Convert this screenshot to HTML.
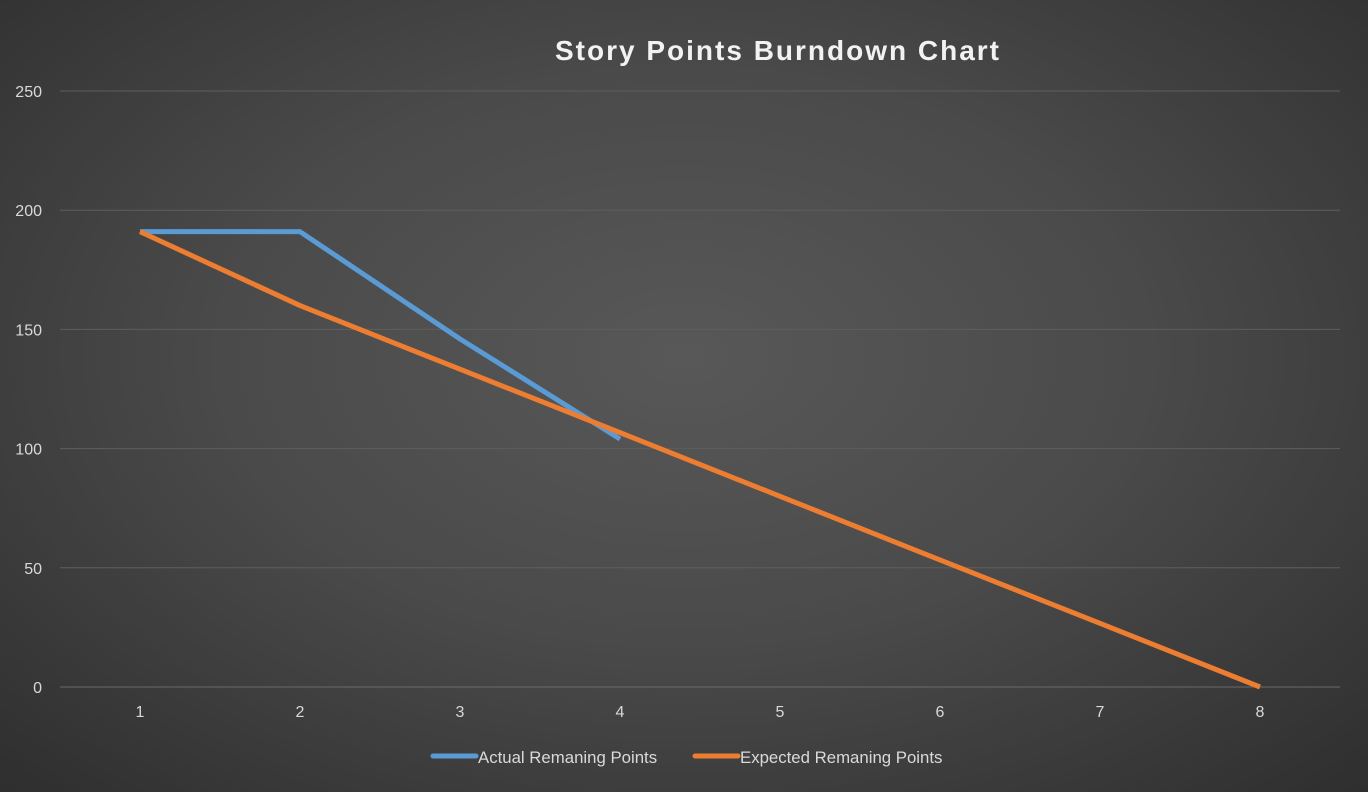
<!DOCTYPE html>
<html><head><meta charset="utf-8"><style>
html,body{margin:0;padding:0;}
body{width:1368px;height:792px;overflow:hidden;background:radial-gradient(ellipse 75% 80% at 50% 45%,#585858 0%,#4a4a4a 45%,#2c2c2c 100%);font-family:"Liberation Sans",sans-serif;}
svg{position:absolute;left:0;top:0;}
</style></head><body>
<svg width="1368" height="792">
<text x="778" y="60" text-anchor="middle" fill="#f2f2f2" font-size="28" font-weight="bold" letter-spacing="2">Story Points Burndown Chart</text>
<g id="grid"></g><g id="yt"></g><g id="xt"></g><g id="lines"></g>
<g>
<line x1="433" y1="756" x2="476" y2="756" stroke="#5b9bd5" stroke-width="5" stroke-linecap="round"/>
<text x="478" y="763" fill="#d9d9d9" font-size="16.8">Actual Remaning Points</text>
<line x1="695" y1="756" x2="738" y2="756" stroke="#ed7d31" stroke-width="5" stroke-linecap="round"/>
<text x="740" y="763" fill="#d9d9d9" font-size="16.8">Expected Remaning Points</text>
</g>
</svg>
<script>
const categories=[1,2,3,4,5,6,7,8];
const actual=[191,191,146,104];
const expected=[191,160,133.3,106.7,80,53.3,26.7,0];
const yTicks=[0,50,100,150,200,250];
const NS="http://www.w3.org/2000/svg";
const y=v=>687-v*596/250;
const x=i=>140+i*160;
function mk(t,a,p){const e=document.createElementNS(NS,t);for(const k in a)e.setAttribute(k,a[k]);document.getElementById(p).appendChild(e);return e;}
yTicks.forEach(v=>{
const l=mk('line',{x1:60,x2:1340,y1:y(v),y2:y(v),stroke:v===0?'#6a6a6a':'#5e5e5e','stroke-width':1},'grid');


const t=mk('text',{x:42,y:y(v)+6,'text-anchor':'end',fill:'#d9d9d9','font-size':16},'yt');t.textContent=v;


});
categories.forEach((c,i)=>{
const t=mk('text',{x:x(i),y:717,'text-anchor':'middle',fill:'#d9d9d9','font-size':16},'xt');t.textContent=c;


});
const pa=mk('polyline',{points:actual.map((v,i)=>x(i)+','+y(v)).join(' '),fill:'none',stroke:'#5b9bd5','stroke-width':5,'stroke-linejoin':'round'},'lines');


const pe=mk('polyline',{points:expected.map((v,i)=>x(i)+','+y(v)).join(' '),fill:'none',stroke:'#ed7d31','stroke-width':5,'stroke-linejoin':'round'},'lines');


</script>
</body></html>
